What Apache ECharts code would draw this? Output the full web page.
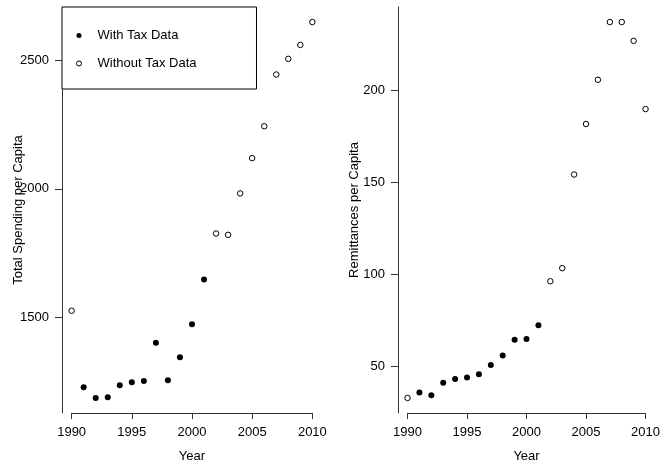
<!DOCTYPE html>
<html>
<head>
<meta charset="utf-8">
<script src="https://cdn.jsdelivr.net/npm/echarts@6/dist/echarts.min.js"></script>
<style>
html,body{margin:0;padding:0;background:#fff;}
#chart{width:663px;height:468px;}
</style>
</head>
<body>
<div id="chart"></div>
<script>
// ---- data ----
const years = [1990,1991,1992,1993,1994,1995,1996,1997,1998,1999,2000,2001,2002,2003,2004,2005,2006,2007,2008,2009,2010];
const hasTaxData = [false,true,true,true,true,true,true,true,true,true,true,true,false,false,false,false,false,false,false,false,false];
const spending = [1526,1229,1187,1190,1236,1248,1253,1402,1256,1345,1473,1647,1826,1821,1982,2119,2243,2444,2505,2559,2648];
const remittances = [33.0,36.0,34.5,41.2,43.3,44.1,45.9,50.9,56.0,64.6,65.0,72.4,96.3,103.4,154.2,181.6,205.6,236.9,236.9,226.7,189.7];
const xTicks = [1990,1995,2000,2005,2010];
const spendingTicks = [1500,2000,2500];
const remitTicks = [50,100,150,200];
const seriesNames = ['With Tax Data','Without Tax Data'];

const FONT = "'Liberation Sans', Arial, Helvetica, sans-serif";
const ink = '#000';
const lineCol = '#333';

function pad(vals){
  const mn = Math.min(...vals), mx = Math.max(...vals);
  const r = mx - mn;
  return [mn - 0.04*r, mx + 0.04*r];
}
const xLim = [years[0] - 0.04*(years[years.length-1]-years[0]), years[years.length-1] + 0.04*(years[years.length-1]-years[0])];
const sLim = pad(spending);
const rLim = pad(remittances);

function pts(vals, flag){
  const out = [];
  years.forEach((y,i)=>{ if (hasTaxData[i] === flag) out.push([y, vals[i]]); });
  return out;
}
const plain = v => String(v);

function xAxisCfg(gi){
  return {
    gridIndex: gi, type:'value', min:xLim[0], max:xLim[1],
    name:'Year', nameLocation:'middle', nameGap:37, nameMoveOverlap:false,
    nameTextStyle:{fontFamily:FONT, fontSize:13, color:ink},
    axisLine:{show:false},
    axisTick:{show:true, length:6, customValues:xTicks, lineStyle:{color:lineCol}},
    axisLabel:{show:true, customValues:xTicks, margin:13, formatter:plain, fontFamily:FONT, fontSize:13, color:ink},
    splitLine:{show:false}
  };
}
function yAxisCfg(gi, lim, ticks, name, gap){
  return {
    gridIndex: gi, type:'value', min:lim[0], max:lim[1],
    name:name, nameLocation:'middle', nameGap:gap, nameMoveOverlap:false,
    nameTextStyle:{fontFamily:FONT, fontSize:13, color:ink},
    axisLine:{show:true, lineStyle:{color:lineCol, width:1}},
    axisTick:{show:true, length:7, customValues:ticks, lineStyle:{color:lineCol}},
    axisLabel:{show:true, customValues:ticks, margin:13, formatter:plain, fontFamily:FONT, fontSize:13, color:ink},
    splitLine:{show:false}
  };
}
function xLine(lim){
  return {
    silent:true, symbol:'none', animation:false,
    label:{show:false},
    lineStyle:{color:lineCol, width:1, type:'solid', opacity:1},
    data:[[{coord:[xTicks[0], lim[0]]},{coord:[xTicks[xTicks.length-1], lim[0]]}]]
  };
}
function filled(gi, vals, lim){
  return {
    name:seriesNames[0], type:'scatter', xAxisIndex:gi, yAxisIndex:gi,
    data:pts(vals,true), symbol:'circle', symbolSize:6,
    itemStyle:{color:'#000', opacity:1}, markLine:xLine(lim), clip:false
  };
}
function open(gi, vals){
  return {
    name:seriesNames[1], type:'scatter', xAxisIndex:gi, yAxisIndex:gi,
    data:pts(vals,false), symbol:'circle', symbolSize:5.5,
    itemStyle:{color:'#fff', borderColor:'#000', borderWidth:1, opacity:1}, clip:false
  };
}

const chart = echarts.init(document.getElementById('chart'), null, {renderer:'canvas'});
chart.setOption({
  animation:false,
  backgroundColor:'#fff',
  textStyle:{fontFamily:FONT},
  grid:[
    {left:62, width:260, top:7, height:407},
    {left:398, width:260, top:7, height:407}
  ],
  xAxis:[xAxisCfg(0), xAxisCfg(1)],
  yAxis:[
    yAxisCfg(0, sLim, spendingTicks, 'Total Spending per Capita', 37),
    yAxisCfg(1, rLim, remitTicks, 'Remittances per Capita', 37)
  ],
  legend:{
    show:true, orient:'vertical', left:62, top:7,
    data:[{name:seriesNames[0], icon:'circle', itemStyle:{color:'#000', borderWidth:0, opacity:1}},
          {name:seriesNames[1], icon:'circle', itemStyle:{color:'#fff', borderColor:'#000', borderWidth:1, opacity:1}}],
    itemWidth:5, itemHeight:5, itemGap:15,
    padding:[22,60,19,14],
    borderColor:'#000', borderWidth:1, backgroundColor:'#fff',
    textStyle:{fontFamily:FONT, fontSize:13, color:ink, padding:[0,0,0,11]},
    selectedMode:false
  },
  series:[
    filled(0, spending, sLim), open(0, spending),
    filled(1, remittances, rLim), open(1, remittances)
  ]
});
</script>
</body>
</html>
